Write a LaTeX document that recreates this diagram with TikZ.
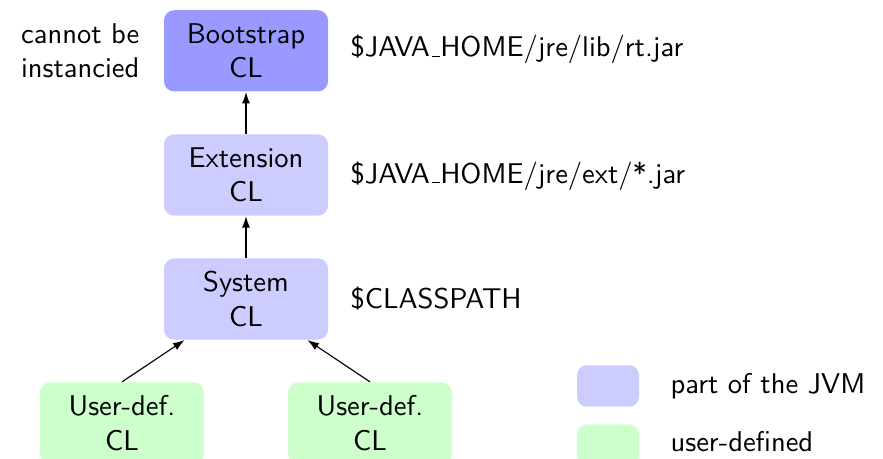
\documentclass[tikz,border=0pt]{standalone}
\usetikzlibrary{arrows.meta}
% thin rule underscore, as in classic LaTeX
\newcommand{\uscore}{\leavevmode\kern.06em\vbox{\hrule width.3em}}
\begin{document}
\begin{tikzpicture}[x=0.35pt,y=-0.35pt,
  every node/.style={font=\sffamily\fontsize{10}{12}\selectfont},
  clbox/.style={rounded corners=3.5pt, minimum width=57.4pt, minimum height=28.4pt,
    inner sep=0pt, align=center},
  boot/.style={clbox, fill=blue!40},
  jvm/.style={clbox, fill=blue!20},
  usr/.style={clbox, fill=green!20},
  keybox/.style={rounded corners=3.5pt, minimum width=21.7pt, minimum height=14.5pt, inner sep=0pt},
  lbl/.style={anchor=base west, inner sep=0pt},
  dep/.style={-{Latex[length=4pt,width=2.8pt]}, line width=0.4pt}]
\useasboundingbox (0,0) rectangle (883,459);

% class loader hierarchy
\node[boot] (bs) at (246,50.8) {Bootstrap\\CL};
\node[jvm]  (ext) at (246,175) {Extension\\CL};
\node[jvm]  (sys) at (246,299) {System\\CL};
\node[usr]  (u1) at (122,423) {User-def.\\CL};
\node[usr]  (u2) at (370,423) {User-def.\\CL};

\draw[dep] (ext) -- (bs);
\draw[dep] (sys) -- (ext);
\draw[dep] (u1.north) -- (sys);
\draw[dep] (u2.north) -- (sys);

% annotations
\node[inner sep=0pt, align=right, anchor=east] (nb) at (140,51) {cannot be\\instancied};
\node[lbl] (p1) at (350,56.7) {\$JAVA\uscore HOME/jre/lib/rt.jar};
\node[lbl] (p2) at (350,183.3) {\$JAVA\uscore HOME/jre/ext/*.jar};
\node[lbl] (p3) at (350,308.3) {\$CLASSPATH};

% legend
\node[keybox, fill=blue!20] (k1) at (608,386) {};
\node[keybox, fill=green!20] (k2) at (608,445) {};
\node[lbl] (t1) at (670,393.3) {part of the JVM};
\node[lbl] (t2) at (670,451.7) {user-defined};
\end{tikzpicture}
\end{document}
